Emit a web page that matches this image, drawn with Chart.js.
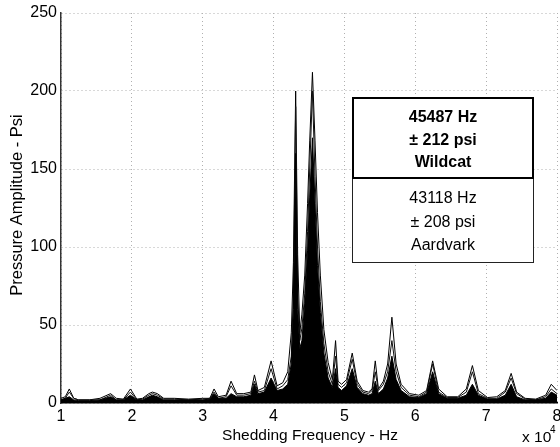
<!DOCTYPE html>
<html>
<head>
<meta charset="utf-8">
<script src="https://cdn.jsdelivr.net/npm/chart.js@4.4.1/dist/chart.umd.min.js"></script>
<style>
  html, body { margin: 0; padding: 0; background: #fff; }
  #wrap { width: 560px; height: 447px; }
</style>
</head>
<body>
<div id="wrap"><canvas id="spectrum" width="560" height="447"></canvas></div>
<script>
// Shedding frequency (Hz) and pressure amplitude (psi)
const freqs = [
    10000, 10600, 11170, 11800, 12500, 14000, 15500, 17000, 17800, 18800,
    19800, 20700, 21500, 22400, 22900, 23600, 24500, 26000, 28000, 30000,
    31000, 31600, 32200, 33300, 34000, 34800, 35800, 36800, 37300, 37800,
    38700, 39650, 40500, 41300, 42000, 42500, 42800, 43118, 43400, 43700,
    44000, 44400, 44800, 45100, 45487, 45850, 46200, 46600, 47100, 47700,
    48300, 48750, 49100, 49600, 50300, 51100, 51800, 52600, 53400, 53900,
    54350, 54800, 55500, 56100, 56700, 57300, 58000, 59200, 60500, 61600,
    62450, 63300, 64500, 66000, 67200, 68060, 68900, 70200, 71500, 72700,
    73530, 74300, 75500, 77000, 78400, 79190, 80000
];

// outer envelope of all the traces
const ampMax = [
    3, 4, 9, 3, 2, 2, 3, 6, 3, 2.5,
    9, 2.5, 3, 6, 7, 6, 3, 3, 2.5, 3,
    3, 9, 4, 5, 14, 6, 6, 7, 18, 8,
    10, 27, 11, 13, 20, 45, 90, 200, 95, 45,
    57, 82, 128, 168, 212, 168, 122, 82, 47, 26,
    15, 40, 14, 12, 15, 32, 14, 8, 7, 9,
    27, 9, 14, 25, 55, 25, 12, 6, 5, 8,
    27, 9, 4, 4, 9, 24, 8, 3.5, 4, 8,
    19, 7, 3, 2.5, 5, 12, 8
];

// a middle trace
const ampMid = [
    2, 3, 7, 3, 2, 2, 2, 5, 2, 2,
    7, 2, 2.5, 5, 6, 5, 2.5, 2.5, 2, 2.5,
    3, 7, 3, 4, 11, 5, 5, 6, 14, 7,
    8, 22, 9, 11, 15, 30, 70, 190, 70, 40,
    48, 70, 110, 150, 200, 145, 100, 65, 38, 20,
    12, 30, 12, 10, 13, 28, 12, 7, 6, 8,
    20, 8, 12, 20, 40, 20, 10, 5, 4, 7,
    25, 7, 3.5, 3.5, 7, 20, 6, 3, 3, 7,
    16, 6, 2.5, 2, 4, 9, 6
];

// dense core where the traces pile up
const ampCore = [
    2, 3, 4, 2, 1.5, 1.5, 2, 4, 2, 2,
    5, 2, 2, 4, 5, 4, 2, 2, 2, 2,
    2.5, 6, 3, 3, 6, 4, 4, 5, 12, 6,
    7, 16, 8, 9, 12, 25, 60, 160, 60, 35,
    40, 64, 98, 132, 170, 128, 88, 58, 32, 16,
    10, 22, 10, 8, 11, 22, 10, 6, 5, 6,
    14, 6, 9, 16, 30, 15, 8, 4, 3.5, 6,
    20, 6, 3, 3, 5, 12, 5, 2.5, 2.5, 5,
    12, 4, 2, 2, 3, 7, 5
];

const boxTop = ['45487 Hz', '\u00b1 212 psi', 'Wildcat'];
const boxBottom = ['43118 Hz', '\u00b1 208 psi', 'Aardvark'];

const FONT = "'Liberation Sans', Arial, sans-serif";

const toPoints = ys => freqs.map((f, i) => ({ x: f, y: ys[i] }));

// --------------------------------------------------------------------------

// axis titles, exponent and the two text boxes
const labelsPlugin = {
    id: 'labels',
    afterDraw(chart) {
        const ctx = chart.ctx;
        ctx.save();
        ctx.fillStyle = '#000';
        ctx.textAlign = 'center';
        ctx.textBaseline = 'middle';

        ctx.font = `15.5px ${FONT}`;
        ctx.fillText('Shedding Frequency - Hz', 310, 436);

        ctx.save();
        ctx.translate(17, 205);
        ctx.rotate(-Math.PI / 2);
        ctx.font = `16.5px ${FONT}`;
        ctx.fillText('Pressure Amplitude - Psi', 0, 0);
        ctx.restore();

        ctx.textAlign = 'left';
        ctx.fillText('x 10', 522, 438);
        ctx.font = `10px ${FONT}`;
        ctx.fillText('4', 550, 430);

        // boxes
        ctx.fillStyle = '#fff';
        ctx.fillRect(352, 97, 182, 166);
        ctx.strokeStyle = '#222';
        ctx.lineWidth = 1;
        ctx.strokeRect(352.5, 178.5, 181, 84);
        ctx.lineWidth = 2;
        ctx.strokeStyle = '#000';
        ctx.strokeRect(353, 98, 180, 80);

        ctx.fillStyle = '#000';
        ctx.textAlign = 'center';
        ctx.font = `bold 16px ${FONT}`;
        boxTop.forEach((t, i) => ctx.fillText(t, 443, 118 + i * 22.5));
        ctx.font = `16px ${FONT}`;
        boxBottom.forEach((t, i) => ctx.fillText(t, 443, 199 + i * 23.5));
        ctx.restore();
    }
};

const lineSet = (label, ys, extra) => Object.assign({
    label,
    data: toPoints(ys),
    borderColor: '#000',
    borderWidth: 1,
    pointRadius: 0,
    tension: 0,
    fill: false
}, extra);

new Chart(document.getElementById('spectrum').getContext('2d'), {
    type: 'line',
    data: {
        datasets: [
            lineSet('core', ampCore, { fill: 'origin', backgroundColor: '#000' }),
            lineSet('mid', ampMid, { borderColor: '#111' }),
            lineSet('max', ampMax, {})
        ]
    },
    options: {
        responsive: false,
        animation: false,
        layout: { padding: { top: 13, right: 3, left: 0, bottom: 0 } },
        plugins: {
            legend: { display: false },
            tooltip: { enabled: false }
        },
        scales: {
            x: {
                type: 'linear',
                min: 10000,
                max: 80000,
                ticks: {
                    stepSize: 10000,
                    color: '#000',
                    font: { family: FONT, size: 16 },
                    padding: 4,
                    maxRotation: 0,
                    callback: v => v / 10000
                },
                grid: { color: '#b0b0b0', tickLength: 0, drawTicks: false },
                border: { display: true, color: '#000', width: 1.5, dash: [1, 3] },
                afterFit(scale) {
                    scale.height = 44;
                    scale.paddingLeft = 0;
                    scale.paddingRight = 0;
                }
            },
            y: {
                min: 0,
                max: 250,
                ticks: {
                    stepSize: 50,
                    color: '#000',
                    font: { family: FONT, size: 16 },
                    padding: 4
                },
                grid: { color: '#b0b0b0', tickLength: 0, drawTicks: false },
                border: { display: true, color: '#333', width: 1.5, dash: [1, 3] },
                afterFit(scale) {
                    scale.width = 61;
                    scale.paddingTop = 0;
                    scale.paddingBottom = 0;
                }
            }
        }
    },
    plugins: [labelsPlugin]
});
</script>
</body>
</html>
